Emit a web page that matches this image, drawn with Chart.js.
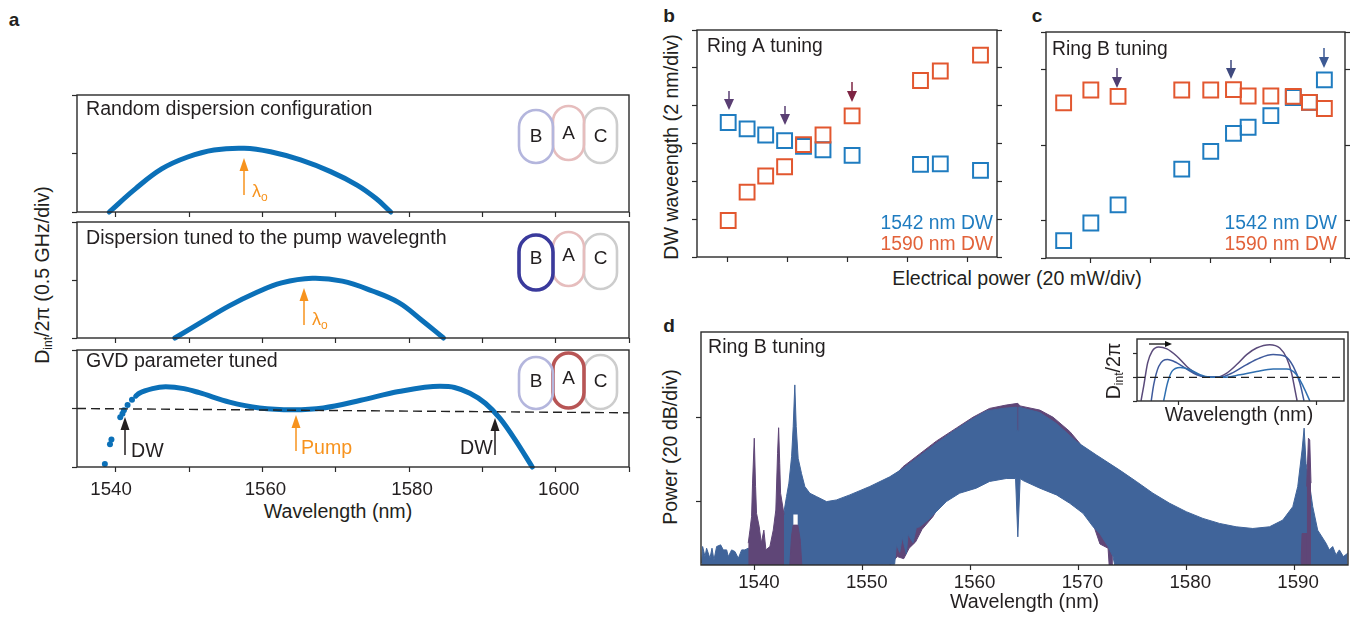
<!DOCTYPE html>
<html><head><meta charset="utf-8">
<script src="https://cdn.jsdelivr.net/npm/chart.js@4"></script>
<style>
html,body{margin:0;padding:0;background:#fff;width:1357px;height:618px;overflow:hidden;font-family:"Liberation Sans",Arial,sans-serif;color:#231f20}
canvas{position:absolute;display:block}
.t{position:absolute;white-space:nowrap;transform:translate(-50%,-50%);font-size:19.6px;line-height:1}
.r{transform:translate(-50%,-50%) rotate(-90deg)}
.t sub{font-size:12px;vertical-align:-3px;line-height:0}
.l{font-weight:bold;font-size:19px}
</style></head><body>
<div class="t l" style="left:14px;top:19px">a</div>
<div class="t l" style="left:669px;top:15px">b</div>
<div class="t l" style="left:1037px;top:15px">c</div>
<div class="t l" style="left:669px;top:325px">d</div>
<div class="t r" style="left:43px;top:275px">D<sub>int</sub>/2π (0.5 GHz/div)</div>
<div class="t r" style="left:672px;top:147px">DW waveength (2 nm/div)</div>
<div class="t r" style="left:671px;top:447px">Power (20 dB/div)</div>
<div class="t" style="left:1017px;top:279px">Electrical power (20 mW/div)</div>
<div class="t" style="left:338px;top:512px">Wavelength (nm)</div>
<script>
// ---- panel a ----
const a1Wave=[1539.1,1542.7,1546.3,1549.8,1553.4,1557.5,1561.1,1565.2,1569.3,1572.9,1575.5,1577.5];
const a1Dint=[0,0.40,0.74,0.94,1.06,1.09,1.03,0.89,0.69,0.46,0.23,0];
const a2Wave=[1548.05,1551.9,1555.4,1559.1,1562.6,1566.8,1570.9,1575,1578.6,1581.6,1584.7];
const a2Dint=[0,0.29,0.55,0.78,0.95,1.03,0.98,0.81,0.61,0.32,0];
const a3DotWave=[1538.5,1539.2,1539.4,1540.6,1540.9,1541.1,1541.6,1542.2];
const a3DotDint=[0.05,0.39,0.47,0.85,0.91,0.97,1.06,1.15];
const a3Wave=[1542.7,1543.2,1545,1546.8,1549.3,1551.4,1555.5,1559.6,1564.2,1568.3,1573.4,1578.6,1584.2,1586.2,1588.3,1590.4,1592.4,1594.5,1596.8];
const a3Dint=[1.21,1.26,1.34,1.37,1.34,1.27,1.11,1.01,0.98,1.01,1.14,1.29,1.38,1.36,1.26,1.09,0.83,0.46,0];
const a3ZeroWave=[1534.7,1610];
const a3ZeroDint=[1.0,0.926];
const aWaveTicks=[1540,1550,1560,1570,1580,1590,1600,1610];
const aDintTicks=[0,1,2];
// ---- panel b ----
const bPowerBlue=[20.4,26.7,32.9,39.2,45.5,52.0,61.7,84.5,91.1,104.5];
const bBlue=[7.11,6.77,6.45,6.15,5.85,5.67,5.37,4.90,4.92,4.58];
const bPowerRed=[20.4,26.7,32.9,39.2,45.5,52.0,61.7,84.5,91.1,104.5];
const bRed=[1.93,3.43,4.28,4.77,5.94,6.45,7.46,9.33,9.83,10.67];
const bPowerTicks=[20,40,60,80,100];
const bWaveTicks=[0,2,4,6,8,10,12];
// ---- panel c ----
const cPower=[10.9,20,29.1,50.4,60.1,67.7,72.6,80.2,87.7,93.1,98.1];
const cBlue=[1.46,1.93,2.41,3.36,3.83,4.31,4.47,4.78,5.26,5.13,5.73];
const cRed=[5.12,5.46,5.29,5.46,5.46,5.47,5.30,5.30,5.29,5.13,4.97];
const cPowerTicks=[20,40,60,80,100];
const cWaveTicks=[1,2,4,6,7];
// ---- panel d ----
const dTopWave=[1535.06,1535.15,1535.37,1535.52,1535.83,1536.02,1536.2,1536.45,1536.82,1537.07,1537.38,1537.53,1537.84,1538.15,1538.46,1538.77,1539.07,1539.38,1540.15,1541.08,1541.54,1542.07,1542.38,1542.62,1542.93,1543.15,1543.4,1543.55,1543.7,1543.83,1544.01,1544.32,1544.63,1545.09,1545.71,1546.64,1547.56,1548.8,1550.65,1552.5,1553.73,1555.59,1556.82,1558.36,1559.91,1561.45,1563,1564.23,1564.28,1564.42,1564.47,1566.42,1567.96,1569.81,1571.67,1573.83,1575.37,1576.91,1578.46,1580,1581.54,1583.09,1584.63,1586.17,1587.72,1588.95,1589.88,1590.34,1590.74,1590.93,1591.11,1591.42,1591.73,1592.19,1592.96,1593.27,1593.58,1593.89,1594.2,1594.57,1594.97];
const dTop=[0.4,4.4,2.0,4.0,1.6,4.0,1.2,4.4,4.8,3.6,3.6,2.0,3.6,3.2,1.6,3.6,3.6,4.0,2.8,3.6,4.4,5.2,8.3,11.5,16.3,19.5,25.8,33,42.9,33,25.4,21.8,18.7,17.1,16.3,15.1,15.5,16.7,18.7,21,23,26.6,29,31.8,34.4,36.7,37.3,37.6,32,32,37.6,36.3,33.7,29.4,26.2,22.6,19.9,17.1,14.7,12.7,11.1,9.9,9.1,8.7,9.1,10.7,13.9,18.7,27.4,32.6,24.2,19.5,13.9,8.3,5.2,3.6,4.4,2.4,3.6,2.0,2.8];
const dBottomWave=[1535,1552.96,1553.12,1553.43,1553.67,1554.04,1554.2,1554.66,1554.97,1555.28,1556.05,1556.82,1557.75,1558.98,1560.52,1561.76,1563.3,1564.17,1564.38,1564.6,1564.88,1566.42,1567.96,1569.2,1570.43,1571.36,1571.98,1572.75,1573.21,1573.36,1595];
const dBottom=[0,0.2,4.9,3,6.6,2.6,7.3,5.3,8.9,9.1,10.7,12.7,15.1,17.1,18.3,19.9,20.6,20.6,6.7,20.6,20.1,18.3,16.7,14.7,12.3,9.1,7.5,4.4,2,0,0];
const dPurpleWave=[1552.5,1553.73,1556.82,1558.67,1560.22,1561.76,1563.3,1564.38,1564.57,1566.42,1567.65,1569.2,1570.12,1571,1573.2];
const dPurple=[20,23.4,29.5,32.6,35.2,37.3,38.1,38.5,37.9,36.9,35.2,31.8,29,25,21];
const dPurpleLowWave=[1552.5,1553.2,1553.8,1554.3,1554.9,1555.5,1556.5,1558,1560,1564,1567,1570,1571.4,1572,1572.75,1572.85,1573.2];
const dPurpleLow=[0,2,1.5,4,5.5,8.5,11.5,18,20,22,20,16,9.5,5,4,0,0];
const dLeftPeaksWave=[1539.38,1539.54,1539.69,1539.78,1539.94,1540.06,1540.15,1540.4,1540.59,1540.83,1541.02,1541.39,1541.7,1541.94,1542.1,1542.2,1542.3,1542.38,1542.7];
const dLeftPeaks=[5.2,8.3,11.5,19.5,30.2,18.7,12.3,9.1,5.2,8.3,3.6,4.4,8.3,13.1,26.6,32.7,24.2,17.1,12];
const dFootWave=[1543.23,1543.4,1543.55,1543.98,1544.2,1544.35];
const dFoot=[0,7,9.5,9.5,6,0];
const dRightPeakWave=[1591.17,1591.33,1591.45,1591.57];
const dRightPeak=[18.7,30.2,29.8,19.5];
const dRightFootWave=[1590.65,1590.74,1591.27,1591.36];
const dRightFoot=[0.4,7.5,7.5,0.4];
const dGap1Wave=[1542.25,1542.35,1542.5];
const dGap1=[11,12,10];
const dGap2Wave=[1543.55,1543.98];
const dGap2=[12,12];
const dWaveTicks=[1540,1550,1560,1570,1580,1590];
const dPowerTicks=[15.2,35.2];
// ---- inset ----
const iWave1=[1526.4,1527.35,1528.8,1530.4,1532.8,1535.8,1539.4,1543,1546.6,1550.2,1553.9,1557.5,1561.1,1564.7,1568.3,1573.1,1576.7,1579.2,1581,1582.2,1583];
const iDint1=[-0.99,-0.38,0.61,1.1,1.28,1.2,0.89,0.46,0.15,0.01,0.01,0.18,0.54,0.96,1.24,1.38,1.24,0.82,0.18,-0.52,-0.99];
const iWave2=[1530.1,1531,1532.8,1536,1539.4,1543,1546.6,1550.2,1555.1,1559.9,1564.7,1569.5,1574.3,1578.6,1581.6,1584,1585.5];
const iDint2=[-0.99,-0.31,0.46,0.75,0.61,0.35,0.11,0.01,0.01,0.21,0.54,0.82,0.96,0.89,0.46,-0.24,-0.99];
const iWave3=[1534.6,1536,1537.6,1540.6,1544.2,1547.8,1551.4,1556.3,1562.3,1568.3,1574.3,1579.2,1582.8,1585.2,1587.6];
const iDint3=[-0.99,-0.24,0.25,0.42,0.32,0.11,0.01,0,0.11,0.25,0.35,0.35,0.11,-0.38,-0.99];
const iZeroWave=[1524.94,1600];
const iZero=[0,0];
const iWaveTicks=[1540,1590];
const iDintTicks=[-1,0,1];

const FONT='"Liberation Sans", Arial, sans-serif';
const INK='#231f20',CURVE='#0b70b8',ORANGE='#f7931e',SQB='#1f7cc0',SQR='#e2572f',LEGR='#e2623a';
const BAND='#40649a',PURP='#5f4677';
Chart.defaults.font.family=FONT;
Chart.defaults.animation=false;

function xy(xs,ys){return xs.map((x,i)=>({x,y:ys[i]}));}
const line=(xs,ys,o)=>Object.assign({data:xy(xs,ys),pointRadius:0,borderJoinStyle:'round',fill:false},o);
const curve=(xs,ys)=>line(xs,ys,{borderColor:CURVE,borderWidth:5,cubicInterpolationMode:'monotone',clip:false,borderCapStyle:'round'});
const arch=(xs,ys)=>line(xs,ys,{borderColor:CURVE,borderWidth:5,tension:0.4,clip:false,borderCapStyle:'round'});
const squares=(xs,ys,c)=>({data:xy(xs,ys),showLine:false,pointStyle:'rect',pointRadius:10.5,pointBorderWidth:2,pointBorderColor:c,pointBackgroundColor:'transparent',clip:false});

const decoPlugin={id:'deco',
 beforeDraw(ch,_,o){if(o.white){const a=ch.chartArea;ch.ctx.save();ch.ctx.fillStyle='#fff';ch.ctx.fillRect(a.left,a.top,a.width,a.height);ch.ctx.restore();}},
 afterDatasetsDraw(ch,_,o){
  const c=ch.ctx,a=ch.chartArea,ox=o.ox,oy=o.oy;
  c.save();
  c.strokeStyle='#2a2a2a';c.lineWidth=o.frame||1.4;c.strokeRect(a.left,a.top,a.width,a.height);
  (o.pills||[]).forEach(p=>{
    c.beginPath();c.strokeStyle=p.color;c.lineWidth=p.w;
    c.roundRect(p.x1-ox,p.y1-oy,p.x2-p.x1,p.y2-p.y1,(p.x2-p.x1)/2);c.stroke();
    c.fillStyle=INK;c.font='19px '+FONT;c.textAlign='center';c.textBaseline='middle';
    c.fillText(p.s,(p.x1+p.x2)/2-ox,p.ty-oy);
  });
  (o.arrows||[]).forEach(r=>{
    const h=r.h||13,w=r.hw||4.5,dir=r.y2>r.y1?1:-1;
    c.strokeStyle=c.fillStyle=r.color;c.lineWidth=r.w||1.5;
    if(r.horizontal){
      c.beginPath();c.moveTo(r.x1-ox,r.y1-oy);c.lineTo(r.x2-h-ox,r.y1-oy);c.stroke();
      c.beginPath();c.moveTo(r.x2-ox,r.y1-oy);c.lineTo(r.x2-h-ox,r.y1-w-oy);c.lineTo(r.x2-h-ox,r.y1+w-oy);c.closePath();c.fill();
    }else{
      c.beginPath();c.moveTo(r.x1-ox,r.y1-oy);c.lineTo(r.x1-ox,r.y2-dir*h-oy);c.stroke();
      c.beginPath();c.moveTo(r.x1-ox,r.y2-oy);c.lineTo(r.x1-w-ox,r.y2-dir*h-oy);c.lineTo(r.x1+w-ox,r.y2-dir*h-oy);c.closePath();c.fill();
    }
  });
  (o.texts||[]).forEach(t=>{
    c.fillStyle=t.color||INK;c.font=(t.size||19.6)+'px '+FONT;c.textAlign=t.align||'left';c.textBaseline='middle';
    c.fillText(t.s,t.x-ox,t.y-oy);
    if(t.sub){const wd=c.measureText(t.s).width;c.font='12px '+FONT;c.textAlign='left';c.fillText(t.sub,t.x-ox+wd,t.y-oy+6);}
  });
  c.restore();
 }};

function panel(box,m,cfg){
 const cv=document.createElement('canvas');
 const ox=box.l-m.l,oy=box.t-m.t;
 cv.width=box.r-box.l+m.l+m.r;cv.height=box.b-box.t+m.t+m.b;
 cv.style.left=ox+'px';cv.style.top=oy+'px';cv.style.width=cv.width+'px';cv.style.height=cv.height+'px';
 document.body.appendChild(cv);
 const tick={drawOnChartArea:false,drawTicks:true,tickLength:cfg.tickLength||5,tickColor:'#2a2a2a',tickWidth:1.2};
 const setTicks=l=>s=>{s.ticks=l.map(v=>({value:v}));};
 const scales={
  x:{type:'linear',min:cfg.x[0],max:cfg.x[1],afterBuildTicks:setTicks(cfg.xTicks),afterFit:s=>{s.height=m.b;},
     border:{display:false},grid:tick,
     ticks:{display:!!cfg.xLabels,autoSkip:false,maxRotation:0,minRotation:0,color:INK,padding:cfg.xPad||0,font:{size:cfg.xSize||18.7},labelOffset:cfg.xShift||0,
            callback:cfg.xLabels||(()=>'')},
     title:cfg.xTitle?{display:true,text:cfg.xTitle,color:INK,font:{size:19.7},padding:0}:{display:false}},
  y:{type:'linear',min:cfg.y[0],max:cfg.y[1],afterBuildTicks:setTicks(cfg.yTicks),afterFit:s=>{s.width=m.l;},
     border:{display:false},grid:tick,ticks:{display:false}}
 };
 if(cfg.rightTicks){scales.y2={type:'linear',position:'right',min:cfg.y[0],max:cfg.y[1],afterBuildTicks:setTicks(cfg.yTicks),afterFit:s=>{s.width=m.r;},
     border:{display:false},grid:tick,ticks:{display:false}};}
 return new Chart(cv,{type:'line',data:{datasets:cfg.datasets},plugins:[decoPlugin],options:{
   responsive:false,maintainAspectRatio:false,animation:false,devicePixelRatio:1,
   layout:{autoPadding:false,padding:{left:0,top:m.t,right:cfg.rightTicks?0:m.r,bottom:0}},
   elements:{line:{tension:0}},
   plugins:{legend:{display:false},tooltip:{enabled:false},filler:{propagate:false},
     deco:Object.assign({ox,oy},cfg.deco||{})},
   scales}});
}

const AX=[1534.7,1610];
const faintB='#b4b6dd',faintA='#e6bdbd',faintC='#cdcdcd';
const pills=(yb,ya,yc,ty,bCol,bW,aCol,aW)=>[
 {s:'C',x1:584,x2:617,y1:yc[0],y2:yc[1],ty:ty+1,color:faintC,w:2.6},
 {s:'A',x1:553,x2:584,y1:ya[0],y2:ya[1],ty:ty-2,color:aCol,w:aW},
 {s:'B',x1:519,x2:553,y1:yb[0],y2:yb[1],ty:ty+1,color:bCol,w:bW}];

panel({l:77,t:95,r:629,b:212},{l:10,t:4,r:8,b:8},{x:AX,y:[0,2],xTicks:aWaveTicks,yTicks:aDintTicks,
 datasets:[arch(a1Wave,a1Dint)],
 deco:{pills:pills([110,163],[106,160],[108,163],136,faintB,2.6,faintA,2.6),
  arrows:[{x1:244,y1:195,y2:158,color:ORANGE}],
  texts:[{s:'Random dispersion configuration',x:86,y:110},{s:'λ',x:252,y:192,color:ORANGE,size:18,sub:'o'}]}});

panel({l:77,t:222,r:629,b:338},{l:10,t:4,r:8,b:8},{x:AX,y:[0,2],xTicks:aWaveTicks,yTicks:aDintTicks,
 datasets:[arch(a2Wave,a2Dint)],
 deco:{pills:pills([235,290],[232,286],[234,289],258,'#3a3a9c',3.6,faintA,2.6),
  arrows:[{x1:304,y1:325,y2:288,color:ORANGE}],
  texts:[{s:'Dispersion tuned to the pump wavelegnth',x:86,y:239},{s:'λ',x:312,y:320,color:ORANGE,size:18,sub:'o'}]}});

panel({l:77,t:350,r:629,b:467},{l:10,t:4,r:8,b:40},{x:AX,y:[0,2],xTicks:aWaveTicks,yTicks:aDintTicks,tickLength:5,xPad:7,xSize:18.7,xShift:3,
 xLabels:v=>v===1540?'1540   ':(v%20===0?String(v):''),
 datasets:[
  line(a3ZeroWave,a3ZeroDint,{borderColor:'#222',borderWidth:1.4,borderDash:[9,5]}),
  curve(a3Wave,a3Dint),
  {data:xy(a3DotWave,a3DotDint),showLine:false,pointRadius:3,pointBackgroundColor:CURVE,pointBorderWidth:0,clip:false}],
 deco:{pills:pills([357,409],[353,408],[355,409],381,faintB,2.6,'#b85555',3.6),
  arrows:[{x1:125,y1:455,y2:417,color:INK},{x1:296,y1:451,y2:415,color:ORANGE},{x1:495,y1:455,y2:418,color:INK}],
  texts:[{s:'GVD parameter tuned',x:86,y:362},{s:'DW',x:131,y:452},{s:'Pump',x:301,y:449,color:ORANGE},{s:'DW',x:460,y:449}]}});

panel({l:697,t:30,r:997,b:257},{l:10,t:4,r:10,b:10},{x:[10,110],y:[0,12],xTicks:bPowerTicks,yTicks:bWaveTicks,rightTicks:true,
 datasets:[squares(bPowerRed,bRed,SQR),squares(bPowerBlue,bBlue,SQB)],
 deco:{arrows:[{x1:729,y1:91,y2:110,color:'#5a3f73',h:11,hw:5},{x1:785,y1:106,y2:125,color:'#5a3f73',h:11,hw:5},{x1:852,y1:82,y2:102,color:'#7e2443',h:11,hw:5}],
  texts:[{s:'Ring A tuning',x:707,y:47,size:19.3},{s:'1542 nm DW',x:993,y:224,align:'right',color:SQB,size:19.3},{s:'1590 nm DW',x:993,y:245,align:'right',color:LEGR,size:19.3}]}});

panel({l:1046,t:32,r:1345,b:258},{l:10,t:4,r:10,b:10},{x:[5,105],y:[1,7],xTicks:cPowerTicks,yTicks:cWaveTicks,rightTicks:true,
 datasets:[squares(cPower,cRed,SQR),squares(cPower,cBlue,SQB)],
 deco:{arrows:[{x1:1117,y1:68,y2:88,color:'#4f3f72',h:11,hw:5},{x1:1231,y1:60,y2:79,color:'#3f4a7f',h:11,hw:5},{x1:1324,y1:48,y2:68,color:'#3d5a94',h:11,hw:5}],
  texts:[{s:'Ring B tuning',x:1052,y:50,size:19.3},{s:'1542 nm DW',x:1337,y:224,align:'right',color:SQB,size:19.3},{s:'1590 nm DW',x:1337,y:245,align:'right',color:LEGR,size:19.3}]}});

const bandO=(c,f)=>({borderColor:c,backgroundColor:c,borderWidth:1,fill:f,clip:true});
panel({l:701,t:332,r:1348,b:565},{l:10,t:4,r:8,b:49},{x:[1535,1595],y:[0,55.5],xTicks:dWaveTicks,yTicks:dPowerTicks,tickLength:5,xPad:1.5,xSize:18.7,xShift:4,
 xLabels:v=>String(v),xTitle:'Wavelength (nm)',
 datasets:[
  line(dLeftPeaksWave,dLeftPeaks,bandO(PURP,{value:0})),
  line(dFootWave,dFoot,bandO(PURP,{value:0})),
  line(dRightPeakWave,dRightPeak,bandO(PURP,{value:0})),
  line(dRightFootWave,dRightFoot,bandO(PURP,{value:0})),
  line(dGap1Wave,dGap1,{borderWidth:0,backgroundColor:'#fff',fill:{value:6}}),
  line(dGap2Wave,dGap2,{borderWidth:0,backgroundColor:'#fff',fill:{value:9.5}}),
  line(dTopWave,dTop,bandO(BAND,7)),
  line(dBottomWave,dBottom,{borderColor:BAND,borderWidth:1}),
  line(dPurpleWave,dPurple,bandO(PURP,9)),
  line(dPurpleLowWave,dPurpleLow,{borderColor:PURP,borderWidth:1})],
 deco:{texts:[{s:'Ring B tuning',x:708,y:348}]}});

panel({l:1137,t:339,r:1344,b:401},{l:10,t:3,r:4,b:22},{x:[1524.94,1600],y:[-1,1.62],xTicks:iWaveTicks,yTicks:iDintTicks,tickLength:4,
 datasets:[
  line(iZeroWave,iZero,{borderColor:'#222',borderWidth:1.4,borderDash:[8,5]}),
  line(iWave3,iDint3,{borderColor:'#2f6fb0',borderWidth:1.5,cubicInterpolationMode:'monotone'}),
  line(iWave2,iDint2,{borderColor:'#3f5a9c',borderWidth:1.5,cubicInterpolationMode:'monotone'}),
  line(iWave1,iDint1,{borderColor:'#5a4a7a',borderWidth:1.5,cubicInterpolationMode:'monotone'})],
 deco:{white:true,arrows:[{x1:1149,x2:1172,y1:344,color:'#111',horizontal:true,h:7,hw:3,w:1.3}]}});
</script>
<div class="t" style="left:1239px;top:415px">Wavelength (nm)</div>
<div class="t r" style="left:1114px;top:371px">D<sub>int</sub>/2π</div>
</body></html>
